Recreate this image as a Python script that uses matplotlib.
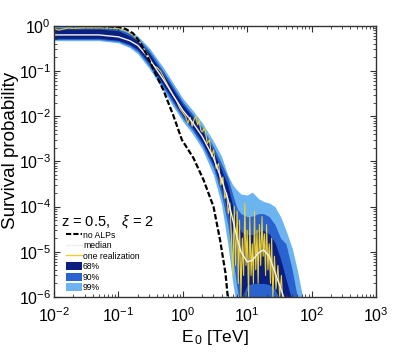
import numpy as np
import matplotlib
matplotlib.use("Agg")
import matplotlib.pyplot as plt
from matplotlib.lines import Line2D
from matplotlib.patches import Patch

plt.rcParams['font.family'] = ['Liberation Sans', 'DejaVu Sans']
plt.rcParams['mathtext.fontset'] = 'custom'
plt.rcParams['mathtext.rm'] = 'Liberation Sans'
plt.rcParams['mathtext.it'] = 'Liberation Sans:italic'

# ---- data ----
energy = [0.01, 0.05, 0.1, 0.15, 0.2, 0.3, 0.5, 0.7, 1.0, 1.4, 2.0, 3.0, 4.0, 5.0,
          6.0, 7.0, 8.0, 10, 12, 15, 18, 22, 27, 33, 40, 50, 60, 70, 80]
median = [0.63, 0.63, 0.57, 0.47, 0.37, 0.19, 0.065, 0.03, 0.0135, 0.0075, 0.0036,
          0.0012, 4e-4, 1.5e-4, 5e-5, 2e-5, 1e-5, 6e-6, 6.5e-6, 9.5e-6, 1.1e-5, 8e-6,
          3.5e-6, 1.6e-6, 7e-7, 2e-7, 1e-7, 1e-7, 1e-7]
p68_lo = [0.53, 0.53, 0.48, 0.39, 0.30, 0.15, 0.05, 0.023, 0.0105, 0.0058, 0.0027,
          8.5e-4, 2.5e-4, 8e-5, 2.2e-5, 6e-6, 9e-7, 1.8e-6, 2e-6, 2e-6, 2e-6, 1.9e-6,
          1.5e-6, 8e-7, 3e-7, 1e-7, 1e-7, 1e-7, 1e-7]
p68_hi = [0.85, 0.85, 0.78, 0.60, 0.47, 0.25, 0.085, 0.04, 0.018, 0.0098, 0.0048,
          0.0017, 6.5e-4, 3e-4, 1e-4, 4.5e-5, 2.8e-5, 2.4e-5, 2.4e-5, 2.8e-5, 3e-5,
          2.5e-5, 1.6e-5, 7e-6, 2.5e-6, 8e-7, 2e-7, 1e-7, 1e-7]
p90_lo = [0.50, 0.50, 0.45, 0.36, 0.27, 0.13, 0.043, 0.02, 0.009, 0.005, 0.0023,
          7e-4, 1.8e-4, 4e-5, 7e-6, 1.5e-6, 5e-7, 3e-7, 3e-7, 3e-7, 3e-7, 3e-7,
          3e-7, 3e-7, 2e-7, 1e-7, 1e-7, 1e-7, 1e-7]
p90_hi = [0.93, 0.93, 0.85, 0.68, 0.53, 0.29, 0.10, 0.047, 0.021, 0.0115, 0.0057,
          0.0021, 9e-4, 4.5e-4, 1.8e-4, 9e-5, 7e-5, 6e-5, 6.2e-5, 7e-5, 7e-5, 6e-5,
          4e-5, 2e-5, 1.5e-5, 4e-6, 1e-6, 2e-7, 1e-7]
p99_lo = [0.47, 0.47, 0.42, 0.33, 0.24, 0.115, 0.037, 0.017, 0.0077, 0.0042, 0.0019,
          5e-4, 1.1e-4, 1.5e-5, 2e-6, 5e-7, 3e-7, 2e-7, 2e-7, 2e-7, 2e-7, 2e-7,
          2e-7, 2e-7, 2e-7, 1e-7, 1e-7, 1e-7, 1e-7]
p99_hi = [1.0, 1.0, 0.95, 0.75, 0.60, 0.33, 0.12, 0.056, 0.025, 0.014, 0.0072,
          0.0028, 0.0013, 5e-4, 3e-4, 2.3e-4, 1.9e-4, 1.8e-4, 2.1e-4, 1.5e-4, 1.3e-4,
          1.2e-4, 1e-4, 6e-5, 3e-5, 1.2e-5, 4e-6, 1.3e-6, 4e-7]

noalp_E = [0.01, 0.05, 0.1, 0.13, 0.17, 0.22, 0.28, 0.36, 0.5, 0.72, 0.97, 1.46,
           2.1, 3.0, 3.8, 4.6, 5.0, 5.5]
noalp_P = [1.0, 0.99, 0.95, 0.85, 0.68, 0.42, 0.22, 0.1, 0.038, 0.01, 0.003, 0.0012,
           3.9e-4, 1e-4, 1.8e-5, 3.4e-6, 1e-6, 3e-7]

real_E = [0.01, 0.012, 0.014, 0.017, 0.02, 0.03, 0.05, 0.07, 0.1, 0.13, 0.17, 0.22,
          0.28, 0.35, 0.4, 0.45, 0.5, 0.6, 0.7, 0.8, 0.9, 1.0, 1.1, 1.2, 1.3, 1.4,
          1.5, 1.6, 1.7, 1.8, 1.9, 2.0, 2.2, 2.4, 2.6, 2.8, 3.0, 3.3, 3.6, 3.9, 4.2,
          4.5, 4.8, 5.1, 5.4, 5.7, 6.0, 6.3, 6.6, 7.0, 7.3, 7.6, 8.0, 8.4, 8.8, 9.2,
          9.6, 10, 10.5, 11, 11.5, 12, 12.5, 13, 13.6, 14.2, 14.8, 15.5, 16.2, 17,
          17.7, 18.5, 19.3, 20, 21, 22, 23, 24, 25, 26.5, 28, 30, 32, 34, 36]
real_P = [0.88, 0.8, 0.85, 0.9, 0.88, 0.9, 0.9, 0.9, 0.88, 0.8, 0.62, 0.42,
          0.24, 0.13, 0.12, 0.1, 0.075, 0.045, 0.03, 0.022, 0.015, 0.012, 0.01,
          0.007, 0.0095, 0.006, 0.0085, 0.01, 0.0065, 0.008, 0.005, 0.0045, 0.0055,
          0.0025, 0.003, 0.0013, 0.0018, 7e-4, 9e-4, 3e-4, 4.5e-4, 1.5e-4, 2e-4,
          7e-5, 1.2e-4, 2e-5, 3e-6, 1e-4, 5e-6, 8e-5, 2e-6, 5e-5, 1e-6, 2e-5, 3e-6,
          1.2e-4, 5e-6, 3e-5, 1e-6, 6e-5, 3e-6, 1.5e-5, 2e-6, 8e-5, 4e-6, 3e-5,
          2e-6, 4e-5, 5e-6, 6e-5, 8e-6, 2.5e-5, 3e-6, 4e-5, 4e-6, 1.5e-5, 2e-6,
          2e-5, 1e-6, 8e-6, 1.5e-6, 5e-6, 1e-6, 3e-6, 5e-7]

xticks = [1e-2, 1e-1, 1e0, 1e1, 1e2, 1e3]
xtick_labels = [r'$10^{-2}$', r'$10^{-1}$', r'$10^{0}$', r'$10^{1}$', r'$10^{2}$', r'$10^{3}$']
yticks = [1e-6, 1e-5, 1e-4, 1e-3, 1e-2, 1e-1, 1e0]
ytick_labels = [r'$10^{-6}$', r'$10^{-5}$', r'$10^{-4}$', r'$10^{-3}$', r'$10^{-2}$', r'$10^{-1}$', r'$10^{0}$']

c68 = '#0b1f80'
c90 = '#2a62cf'
c99 = '#6cb4f0'
cyel = '#e8cf3a'

fig = plt.figure(figsize=(4.15, 3.54), dpi=100)
ax = fig.add_axes([0.130, 0.161, 0.776, 0.766])

ax.fill_between(energy, p99_lo, p99_hi, color=c99, lw=0)
ax.fill_between(energy, p90_lo, p90_hi, color=c90, lw=0)
ax.fill_between(energy, p68_lo, p68_hi, color=c68, lw=0)
ax.plot(real_E, real_P, color=cyel, lw=0.8)
ax.plot(energy, median, color='#f2f2f2', lw=1.0)
ax.plot(noalp_E, noalp_P, color='black', lw=1.6, ls=(0, (2.5, 1.0)))

ax.set_xscale('log')
ax.set_yscale('log')
ax.set_xlim(1e-2, 1e3)
ax.set_ylim(1e-6, 1.0)
ax.set_xticks(xticks)
ax.set_xticklabels(xtick_labels)
ax.set_yticks(yticks)
ax.set_yticklabels(ytick_labels)
ax.tick_params(which='both', direction='in', top=True, right=True, labelsize=11.5,
               color='#333333')
ax.tick_params(which='major', length=4)
ax.tick_params(which='minor', length=2)
ax.tick_params(axis='x', pad=7)
ax.tick_params(axis='y', pad=2)
for s in ax.spines.values():
    s.set_color('#333333')
    s.set_linewidth(1.0)

ax.set_xlabel(r'E$_{\,0}$ [TeV]', fontsize=12.5, labelpad=2)
ax.set_ylabel('Survival probability', fontsize=13.5)
ax.yaxis.set_label_coords(-0.107, 0.54)

ax.text(0.0128, 4.6e-5, r'z = 0.5,   $\xi$ = 2', fontsize=10.5, va='center')

handles = [Line2D([], [], color='black', lw=1.5, ls=(0, (2.5, 1))),
           Line2D([], [], color='#eeeeee', lw=1.0),
           Line2D([], [], color=cyel, lw=1.0),
           Patch(facecolor=c68), Patch(facecolor=c90), Patch(facecolor=c99)]
labels = ['no ALPs', 'median', 'one realization', '68%', '90%', '99%']
ax.legend(handles, labels, loc='lower left', bbox_to_anchor=(0.037, 0.018),
          frameon=False, fontsize=6.2, handlelength=1.9, handleheight=1.0,
          handletextpad=0.1, labelspacing=0.17, borderpad=0, borderaxespad=0)

fig.savefig('out.png', dpi=100)
